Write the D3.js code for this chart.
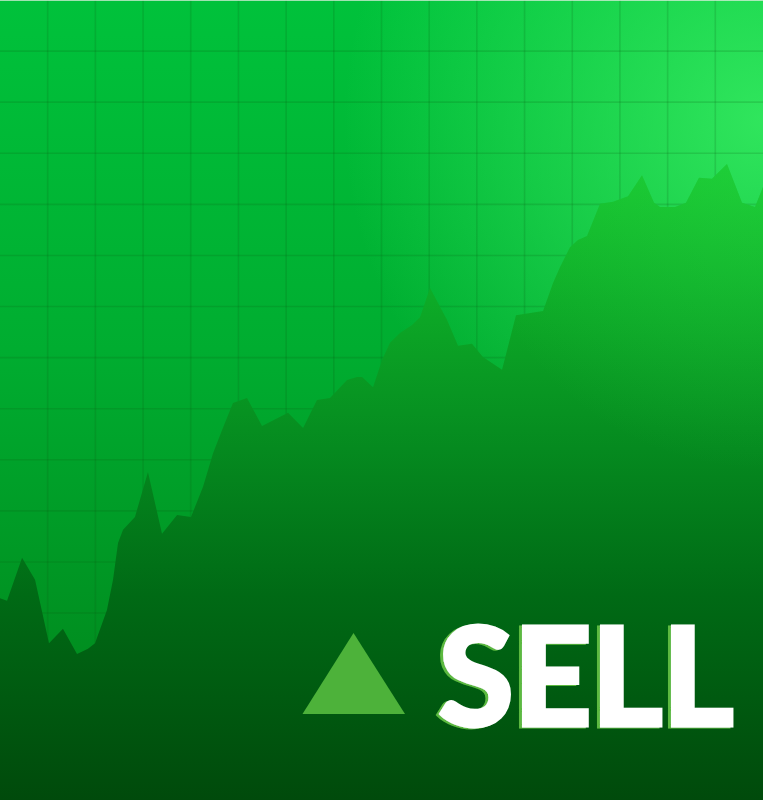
<!DOCTYPE html>
<html>
<head>
<meta charset="utf-8">
<script src="https://cdn.jsdelivr.net/npm/d3@7"></script>
<style>
  body { margin: 0; background: #004a0b; }
  svg { display: block; }
</style>
</head>
<body>
<div id="chart"></div>
<script>
// session time (x) and price (y)
let times = [0, 0.59, 1.85, 2.94, 4.11, 5.28, 6.46, 7.38, 7.97, 8.97, 9.48, 9.9, 10.32, 11.32,
  12.41, 13.59, 14.85, 16.02, 17.03, 17.87, 18.62, 19.54, 20.72, 21.98, 24.16, 25.42, 26.59,
  27.68, 29.11, 29.95, 30.37, 31.29, 32.04, 32.71, 33.55, 34.56, 35.23, 36.07, 37.49, 38.42,
  39.59, 40.51, 42.11, 43.28, 45.55, 46.39, 46.97, 47.81, 48.48, 49.24, 50.33, 51.42, 52.68,
  53.85, 54.86, 55.36, 56.62, 57.54, 58.63, 59.72, 60.98, 62.24, 63.33, 64]
let prices = [42.9, 42.4, 50.8, 46.5, 34.1, 36.9, 32.0, 33.0, 34.1, 40.6, 46.5, 53.7, 56.3, 58.8,
  67.6, 55.5, 59.2, 58.8, 64.7, 71.3, 75.8, 81.1, 82.1, 76.6, 79.2, 76.2, 81.7,
  82.1, 85.6, 86.2, 86.2, 84.2, 89.5, 92.9, 94.8, 96.4, 97.9, 103.6, 97.4, 92.3,
  92.7, 90.1, 87.6, 98.3, 99.1, 104.6, 107.7, 111.6, 113.0, 113.8, 120.1, 120.5, 121.6,
  125.7, 120.3, 119.5, 119.5, 120.3, 125.2, 125.0, 127.9, 120.3, 119.5, 123.4]
let timeTicks = d3.range(4, 64, 4)
let priceTicks = d3.range(10, 160, 10)
let label = "SELL"

let W = 763, H = 800

let svg = d3.select("#chart").append("svg")
  .attr("width", W)
  .attr("height", H)

let x = d3.scaleLinear().domain([0, 64]).range([0, W])
let y = d3.scaleLinear().domain([3.4, 160]).range([H, 0])

let defs = svg.append("defs")

function linGrad(id, x1, y1, x2, y2, stops) {
  let g = defs.append("linearGradient").attr("id", id)
    .attr("gradientUnits", "userSpaceOnUse")
    .attr("x1", x1).attr("y1", y1).attr("x2", x2).attr("y2", y2)
  stops.forEach(s => g.append("stop").attr("offset", s[0]).attr("stop-color", s[1]).attr("stop-opacity", s[2] == null ? 1 : s[2]))
}
function radGrad(id, cx, cy, r, stops) {
  let g = defs.append("radialGradient").attr("id", id)
    .attr("gradientUnits", "userSpaceOnUse")
    .attr("cx", cx).attr("cy", cy).attr("r", r)
  stops.forEach(s => g.append("stop").attr("offset", s[0]).attr("stop-color", s[1]).attr("stop-opacity", s[2]))
}

linGrad("bg", 0, 0, 0, 700, [[0, "#00c23b"], [0.5, "#00ad30"], [1, "#008a1d"]])
radGrad("bgGlow", W, 120, 420, [[0, "#3cf066", 0.8], [1, "#3cf066", 0]])
linGrad("areaFill", 0, 160, 0, H, [[0, "#17c62f"], [0.22, "#0daa27"], [0.45, "#058a1f"], [0.68, "#006a15"], [1, "#004a0b"]])
radGrad("areaGlow", W, 170, 300, [[0, "#2ee24c", 0.35], [1, "#2ee24c", 0]])

// green edge to the left of the label
let f = defs.append("filter").attr("id", "edge")
  .attr("x", -0.1).attr("y", -0.1).attr("width", 1.2).attr("height", 1.2)
f.append("feFlood").attr("flood-color", "#5cb93f").attr("result", "c")
f.append("feComposite").attr("in", "c").attr("in2", "SourceAlpha").attr("operator", "in").attr("result", "s")
f.append("feOffset").attr("in", "s").attr("dx", -3.5).attr("dy", 1).attr("result", "o")
let m = f.append("feMerge")
m.append("feMergeNode").attr("in", "o")
m.append("feMergeNode").attr("in", "SourceGraphic")

// background
svg.append("rect").attr("width", W).attr("height", H).attr("fill", "url(#bg)")
svg.append("rect").attr("width", W).attr("height", H).attr("fill", "url(#bgGlow)")

// grid
let grid = svg.append("g").attr("stroke", "#0a5a14").attr("stroke-opacity", 0.17).attr("stroke-width", 1.6)
grid.selectAll("line.v").data(timeTicks).enter().append("line")
  .attr("x1", d => x(d)).attr("x2", d => x(d))
  .attr("y1", 0).attr("y2", H)
grid.selectAll("line.h").data(priceTicks).enter().append("line")
  .attr("y1", d => y(d)).attr("y2", d => y(d))
  .attr("x1", 0).attr("x2", W)

svg.append("line").attr("x1", 0).attr("x2", W).attr("y1", 0.5).attr("y2", 0.5)
  .attr("stroke", "#e6efe6").attr("stroke-opacity", 0.7)

let data = times.map((t, i) => ({ t: t, p: prices[i] }))

let area = d3.area()
  .x(d => x(d.t))
  .y0(H)
  .y1(d => y(d.p))
  .curve(d3.curveLinear)

svg.append("path").datum(data).attr("d", area).attr("fill", "url(#areaFill)")
svg.append("path").datum(data).attr("d", area).attr("fill", "url(#areaGlow)")

// up arrow
let tri = d3.path()
tri.moveTo(353.5, 633)
tri.lineTo(405, 714)
tri.lineTo(302.5, 714)
tri.closePath()
svg.append("path").attr("d", tri.toString()).attr("fill", "#4db23a")

svg.append("text")
  .attr("x", 438).attr("y", 726)
  .attr("font-family", "Lato, 'Open Sans', sans-serif")
  .attr("font-weight", 900)
  .attr("font-size", 138)
  .attr("fill", "#ffffff")
  .attr("stroke", "#ffffff").attr("stroke-width", 3).attr("stroke-linejoin", "miter")
  .attr("textLength", 296).attr("lengthAdjust", "spacing")
  .attr("filter", "url(#edge)")
  .text(label)
</script>
</body>
</html>
